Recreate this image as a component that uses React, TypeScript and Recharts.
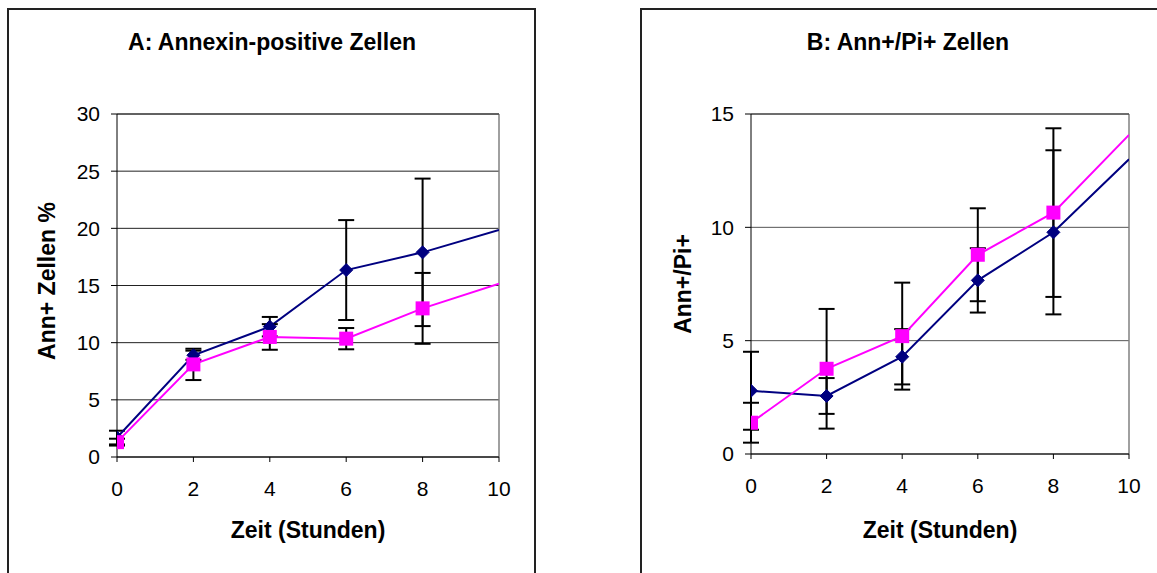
import React from "react";
import { LineChart, Line, XAxis, YAxis, CartesianGrid, ErrorBar, ReferenceLine } from "recharts";

const hours = [0, 2, 4, 6, 8, 10];
const xTicks = [0, 2, 4, 6, 8, 10];

// Panel A: Annexin-positive Zellen
const aBlue = [1.7, 8.9, 11.4, 16.35, 17.9, 19.85];
const aBlueErr = [0.6, 0.4, 0.85, 4.37, 6.45, null];
const aPink = [1.3, 8.1, 10.5, 10.35, 13.0, 15.15];
const aPinkErr = [0.3, 1.37, 1.12, 0.93, 3.1, null];
const aTicks = [0, 5, 10, 15, 20, 25, 30];

// Panel B: Ann+/Pi+ Zellen
const bBlue = [2.79, 2.56, 4.29, 7.66, 9.78, 13.0];
const bBlueErr = [1.72, 0.79, 1.22, 1.42, 3.62, null];
const bPink = [1.38, 3.76, 5.2, 8.79, 10.65, 14.08];
const bPinkErr = [0.88, 2.64, 2.36, 2.05, 3.72, null];
const bTicks = [0, 5, 10, 15];

const NAVY = "#000080";
const MAGENTA = "#FF00FF";
const FONT = "'Liberation Sans', Arial, sans-serif";

function build(blue: number[], blueErr: (number | null)[], pink: number[], pinkErr: (number | null)[]) {
  return hours.map((t, i) => ({
    t,
    blue: blue[i],
    blueErr: blueErr[i],
    pink: pink[i],
    pinkErr: pinkErr[i],
  }));
}

const dataA = build(aBlue, aBlueErr, aPink, aPinkErr);
const dataB = build(bBlue, bBlueErr, bPink, bPinkErr);

const DiamondDot = (props: any) => {
  const { cx, cy, payload, index } = props;
  if (cx == null || cy == null || payload.blueErr == null) return <g key={`d${index}`} />;
  const r = 6.5;
  return (
    <polygon
      key={`d${index}`}
      points={`${cx},${cy - r} ${cx + r},${cy} ${cx},${cy + r} ${cx - r},${cy}`}
      fill={NAVY}
      stroke={NAVY}
    />
  );
};

const SquareDot = (props: any) => {
  const { cx, cy, payload, index } = props;
  if (cx == null || cy == null || payload.pinkErr == null) return <g key={`s${index}`} />;
  const h = 7;
  return <rect key={`s${index}`} x={cx - h} y={cy - h} width={2 * h} height={2 * h} fill={MAGENTA} />;
};

const tickStyle = { fill: "#000", fontSize: 21, fontFamily: FONT };

function Panel(props: {
  data: any[];
  yMax: number;
  yTicks: number[];
  width: number;
  margin: any;
  gridColor: string;
}) {
  const { data, yMax, yTicks, width, margin, gridColor } = props;
  return (
    <LineChart width={width} height={573} data={data} margin={margin}>
      <CartesianGrid horizontal vertical={false} stroke={gridColor} strokeWidth={1} />
      <XAxis
        dataKey="t"
        type="number"
        domain={[0, 10]}
        ticks={xTicks}
        tick={tickStyle}
        tickSize={5}
        tickMargin={19}
        height={30}
        stroke="#000"
        interval={0}
        allowDataOverflow
      />
      <YAxis
        type="number"
        domain={[0, yMax]}
        ticks={yTicks}
        tick={tickStyle}
        tickSize={6}
        tickMargin={11}
        width={60}
        stroke="#000"
        interval={0}
        allowDataOverflow
      />
      <ReferenceLine x={10} stroke="#808080" strokeWidth={1.5} />
      <ReferenceLine y={yMax} stroke="#333" strokeWidth={1} />
      <Line
        type="linear"
        dataKey="blue"
        stroke={NAVY}
        strokeWidth={2}
        dot={DiamondDot}
        activeDot={false}
        isAnimationActive={false}
      >
        <ErrorBar dataKey="blueErr" direction="y" width={8} stroke="#000" strokeWidth={2} />
      </Line>
      <Line
        type="linear"
        dataKey="pink"
        stroke={MAGENTA}
        strokeWidth={2}
        dot={SquareDot}
        activeDot={false}
        isAnimationActive={false}
      >
        <ErrorBar dataKey="pinkErr" direction="y" width={8} stroke="#000" strokeWidth={2} />
      </Line>
    </LineChart>
  );
}

const titleStyle: React.CSSProperties = {
  position: "absolute",
  fontFamily: FONT,
  fontWeight: "bold",
  fontSize: 23,
  color: "#000",
  whiteSpace: "nowrap",
  lineHeight: "23px",
  transform: "translate(-50%, -50%)",
};

export default function App() {
  return (
    <div style={{ position: "absolute", left: 0, top: 0, width: 1157, height: 573, overflow: "hidden", background: "#fff" }}>
      {/* frames */}
      <div style={{ position: "absolute", left: 7, top: 8, width: 529, height: 620, border: "2px solid #222", boxSizing: "border-box" }} />
      <div style={{ position: "absolute", left: 640, top: 8, width: 620, height: 620, border: "2px solid #222", boxSizing: "border-box" }} />

      <div style={{ position: "absolute", left: 0, top: 0 }}>
        <Panel
          data={dataA}
          yMax={30}
          yTicks={aTicks}
          width={540}
          margin={{ top: 114, right: 41, bottom: 86, left: 57 }}
          gridColor="#222"
        />
      </div>
      <div style={{ position: "absolute", left: 630, top: 0 }}>
        <Panel
          data={dataB}
          yMax={15}
          yTicks={bTicks}
          width={527}
          margin={{ top: 114, right: 28, bottom: 89, left: 61 }}
          gridColor="#555"
        />
      </div>

      {/* titles */}
      <div style={{ ...titleStyle, left: 272, top: 42 }}>A: Annexin-positive Zellen</div>
      <div style={{ ...titleStyle, left: 908, top: 42 }}>B: Ann+/Pi+ Zellen</div>

      {/* x axis labels */}
      <div style={{ ...titleStyle, left: 308, top: 530 }}>Zeit (Stunden)</div>
      <div style={{ ...titleStyle, left: 940, top: 530 }}>Zeit (Stunden)</div>

      {/* y axis labels */}
      <div style={{ ...titleStyle, left: 47, top: 281, transform: "translate(-50%, -50%) rotate(-90deg)" }}>Ann+ Zellen %</div>
      <div style={{ ...titleStyle, left: 683, top: 284, transform: "translate(-50%, -50%) rotate(-90deg)" }}>Ann+/Pi+</div>
    </div>
  );
}
